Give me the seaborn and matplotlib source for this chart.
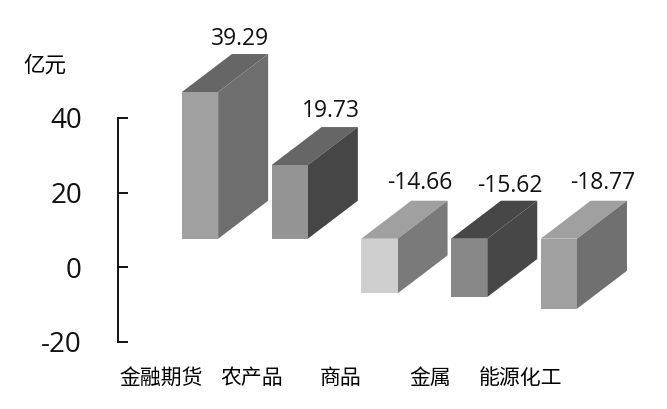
import matplotlib
matplotlib.use("Agg")
import matplotlib.pyplot as plt
import seaborn as sns
import pandas as pd

categories = ["金融期货", "农产品", "商品", "金属", "能源化工"]
values = [39.29, 19.73, -14.66, -15.62, -18.77]
value_labels = ["39.29", "19.73", "-14.66", "-15.62", "-18.77"]
y_ticks = [-20, 0, 20, 40]
y_tick_labels = ["-20", "0", "20", "40"]

front_colors = ["#a0a0a0", "#949494", "#cfcfcf", "#888888", "#a0a0a0"]
side_colors = ["#6e6e6e", "#464646", "#7a7a7a", "#474747", "#707070"]
top_colors = ["#666666", "#666666", "#a0a0a0", "#474747", "#a0a0a0"]

W, H = 667, 409
px_x0, px_step = 200.0, 89.7      # pixel of first bar centre, bar spacing
px_y0, px_unit = 267.3, 3.733     # pixel of value 0, pixels per value unit
base = 7.66                       # floor of the drawn boxes, in value units
depth_x = 50 / px_step
depth_y = 38 / px_unit
bar_w = 36.3 / px_step
label_dx = [-28, -27, -28, -27, -24]
label_dy = [15, 16, 18, 15, 18]

sns.set_theme(style="white")
plt.rcParams["font.family"] = ["Noto Sans CJK SC", "DejaVu Sans"]

fig = plt.figure(figsize=(W / 100, H / 100), dpi=100)
ax = fig.add_axes([0, 0, 1, 1])
df = pd.DataFrame({"cat": categories, "val": values})
sns.barplot(data=df, x="cat", y="val", hue="cat", palette=front_colors, order=categories,
            hue_order=categories, legend=False, width=bar_w, saturation=1, ax=ax,
            bottom=base, linewidth=0, zorder=3)

ax.set_xlim(-px_x0 / px_step, (W - px_x0) / px_step)
ax.set_ylim((px_y0 - H) / px_unit, px_y0 / px_unit)

for i, v in enumerate(values):
    top = base + max(v, 0)
    bot = base + min(v, 0)
    l, r = i - bar_w / 2, i + bar_w / 2
    ax.fill([l, r, r + depth_x, l + depth_x], [top, top, top + depth_y, top + depth_y],
            color=top_colors[i], lw=0, zorder=2)
    ax.fill([r, r + depth_x, r + depth_x, r], [bot, bot + depth_y, top + depth_y, top],
            color=side_colors[i], lw=0, zorder=2)
    ax.annotate(value_labels[i], (r + depth_x, top + depth_y), xytext=(label_dx[i], label_dy[i]),
                textcoords="offset pixels", ha="center", va="center", fontsize=16.5,
                family=["Open Sans"], color="#111111")

for s in ["top", "right", "bottom"]:
    ax.spines[s].set_visible(False)
ax.spines["left"].set_position(("data", (118 - px_x0) / px_step))
ax.spines["left"].set_bounds(-20, 40)
ax.spines["left"].set_color("black")
ax.spines["left"].set_linewidth(1.3)

ax.set_yticks(y_ticks)
ax.set_yticklabels(y_tick_labels)
ax.tick_params(axis="y", direction="in", length=7, width=1.3, color="black", pad=26, left=True)
for t in ax.get_yticklabels():
    t.set_fontsize(20)
    t.set_family(["Open Sans"])
    t.set_color("#111111")

ax.spines["bottom"].set_position(("data", -25.5))
ax.set_xticks([i - 38.5 / px_step for i in range(len(categories))])
ax.set_xticklabels(categories, fontsize=15, color="black")
ax.tick_params(axis="x", bottom=False, length=0, pad=3)
ax.set_xlabel("")
ax.set_ylabel("")

ax.text((45 - px_x0) / px_step, (px_y0 - 66) / px_unit, "亿元", ha="center", va="center",
        fontsize=15.5, color="black")

fig.savefig("out.png", dpi=100, facecolor="white")
